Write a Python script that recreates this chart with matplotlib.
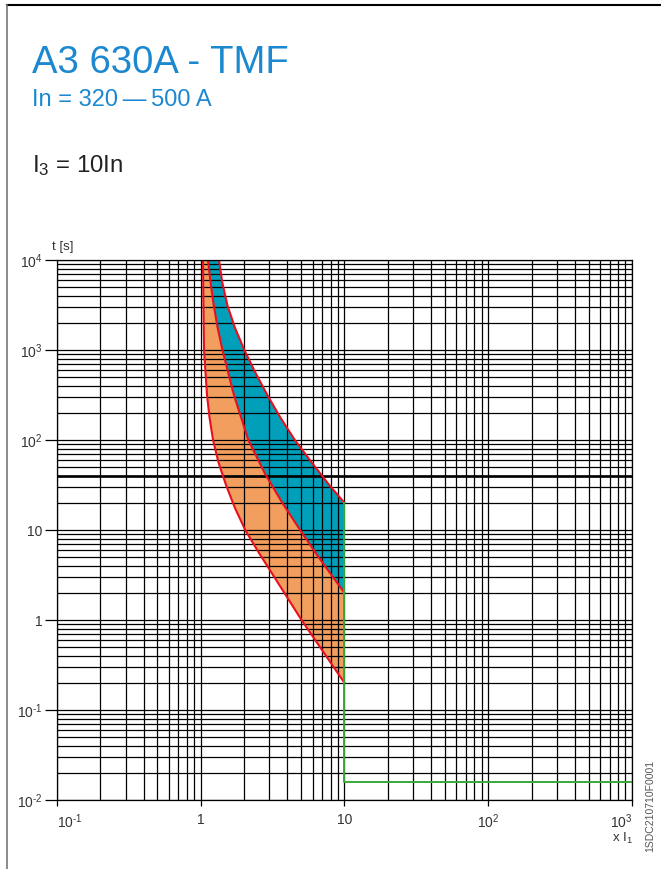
import matplotlib
matplotlib.use('Agg')
import matplotlib.pyplot as plt
from matplotlib.lines import Line2D

plt.rcParams['font.family'] = ['Liberation Sans', 'DejaVu Sans']
plt.rcParams['mathtext.fontset'] = 'custom'
plt.rcParams['mathtext.rm'] = 'Liberation Sans'
plt.rcParams['mathtext.it'] = 'Liberation Sans'

# curves: x = multiple of I1, t in seconds (top to bottom)
left_x = [1.037, 1.044, 1.054, 1.106, 1.151, 1.218, 1.330, 1.500, 1.724, 2.040, 2.532, 3.184, 5.026, 10]
left_t = [10000, 3162, 1000, 316, 178, 100, 56.2, 31.6, 17.8, 10, 5.62, 3.16, 1, 0.2]

mid_x = [1.124, 1.17, 1.231, 1.31, 1.416, 1.702, 2.143, 2.806, 3.697, 4.91, 6.60, 10]
mid_t = [10000, 5623, 3162, 1778, 1000, 316, 100, 42, 20, 10, 5, 2]

right_x = [1.341, 1.413, 1.531, 1.727, 2.011, 2.398, 2.906, 3.579, 4.515, 5.918, 7.834, 10]
right_t = [10000, 5623, 3162, 1778, 1000, 562, 316, 178, 100, 56.2, 31.6, 20]

# magnetic trip (green): vertical at 10 x I1, then flat
mag_x = [10, 10, 1000]
mag_t = [20, 0.016, 0.016]

ref_t = 40  # heavy horizontal line

x_ticks = [0.1, 1, 10, 100, 1000]
x_labels = [r'$10^{\text{-1}}$', '1', '10', r'$10^{2}$', r'$10^{3}$']
y_ticks = [0.01, 0.1, 1, 10, 100, 1000, 10000]
y_labels = [r'$10^{\text{-2}}$', r'$10^{\text{-1}}$', '1', '10', r'$10^{2}$', r'$10^{3}$', r'$10^{4}$']

orange = '#F29E5E'
teal = '#00A0BA'
red = '#E8101E'
green = '#3BA83A'
blue_txt = '#1B88D0'

fig = plt.figure(figsize=(6.61, 8.69), dpi=100)
ax = fig.add_axes([0.0862, 0.0794, 0.8699, 0.6214])
ax.set_xscale('log')
ax.set_yscale('log')
ax.set_xlim(0.1, 1000)
ax.set_ylim(0.01, 10000)

# bands
ax.fill(left_x + mid_x[::-1], left_t + mid_t[::-1], color=orange, lw=0, zorder=1)
ax.fill(mid_x + right_x[::-1], mid_t + right_t[::-1], color=teal, lw=0, zorder=1)

ax.grid(True, which='both', color='black', lw=0.9, zorder=2)
ax.set_axisbelow(False)
ax.axhline(ref_t, color='black', lw=1.9, zorder=3)

for cx, ct in [(left_x, left_t), (mid_x, mid_t), (right_x, right_t)]:
    ax.plot(cx, ct, color=red, lw=1.5, zorder=4, solid_joinstyle='round')
ax.plot(mag_x, mag_t, color=green, lw=1.4, zorder=4)

for s in ax.spines.values():
    s.set_linewidth(0.9)
    s.set_zorder(5)

ax.set_xticks(x_ticks)
ax.set_xticklabels(x_labels)
ax.set_yticks(y_ticks)
ax.set_yticklabels(y_labels)
ax.tick_params(which='minor', length=0)
ax.tick_params(axis='y', which='major', direction='out', length=9, width=0.9,
               pad=1.5, labelsize=10, colors='black', labelcolor='#333333')
ax.tick_params(axis='x', which='major', direction='out', length=4, width=0.9,
               pad=5, labelsize=10, colors='black', labelcolor='#333333')
xl = ax.get_xticklabels()
xl[0].set_ha('left')
xl[-1].set_ha('right')

# titles
fig.text(0.048, 0.916, 'A3 630A - TMF', color=blue_txt, fontsize=27.5, va='baseline')
fig.text(0.048, 0.878, 'In = 320\u2009\u2014\u2009500 A', color=blue_txt, fontsize=17, va='baseline')
fig.text(0.048, 0.802, r'$\mathregular{I_3}$ = 10In', color='#222222', fontsize=17.3, va='baseline')

fig.text(52 / 661, 1 - 247 / 869, 't [s]', fontsize=9.5, color='#333333', va='center')
fig.text(633 / 661, 1 - 838 / 869, r'x $\mathregular{I_1}$', fontsize=9.5, color='#333333',
         va='center', ha='right')
fig.text(650 / 661, 1 - 806 / 869, '1SDC210710F0001', fontsize=7.5, color='#555555',
         rotation=90, va='center', ha='center')

# page frame
fig.add_artist(Line2D([7 / 661, 1], [1 - 5 / 869, 1 - 5 / 869], color='black', lw=1.5))
fig.add_artist(Line2D([7 / 661, 7 / 661], [0, 1 - 5 / 869], color='#777777', lw=1.2))

fig.savefig('out.png', dpi=100)
